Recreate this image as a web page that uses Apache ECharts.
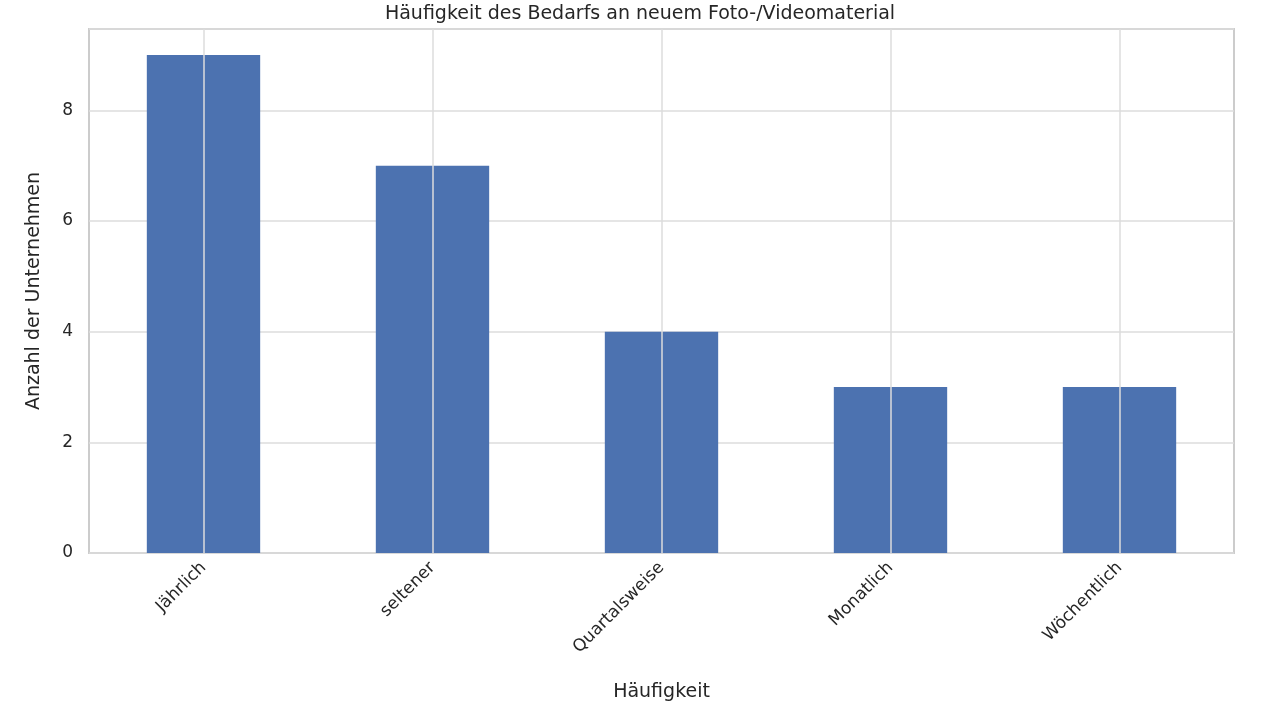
<!DOCTYPE html>
<html><head><meta charset="utf-8">
<script src="https://cdn.jsdelivr.net/npm/echarts@6/dist/echarts.min.js"></script>
<style>html,body{margin:0;padding:0;background:#fff}#c{width:1280px;height:716px}</style>
</head><body><div id="c"></div>
<script>
const categories = ['Jährlich','seltener','Quartalsweise','Monatlich','Wöchentlich'];
const values = [9,7,4,3,3];
const yTicks = [0,2,4,6,8];
const chart = echarts.init(document.getElementById('c'));
const font = 'DejaVu Sans';
chart.setOption({
  animation:false,
  textStyle:{fontFamily:font},
  title:{text:'Häufigkeit des Bedarfs an neuem Foto-/Videomaterial',left:'center',top:0,
    textStyle:{fontFamily:font,fontSize:19,fontWeight:'normal',color:'#262626'}},
  grid:{left:89,right:46,top:29,bottom:163,show:true,borderColor:'#cccccc',borderWidth:2},
  xAxis:{type:'category',data:categories,name:'Häufigkeit',nameLocation:'middle',nameGap:130,
    nameTextStyle:{fontSize:19,color:'#262626'},
    axisLine:{show:false},axisTick:{show:false},
    axisLabel:{rotate:45,fontSize:17,color:'#262626',margin:12},splitLine:{show:false}},
  yAxis:{type:'value',min:0,max:9.47,interval:2,name:'Anzahl der Unternehmen',nameLocation:'middle',nameGap:45,
    nameTextStyle:{fontSize:19,color:'#262626'},
    axisLabel:{fontSize:17,color:'#262626',margin:16,formatter:v=>yTicks.includes(v)?String(v):''},
    axisLine:{show:false},axisTick:{show:false},
    splitLine:{lineStyle:{color:'#dddddd',width:1.5}}},
  series:[
    {type:'line',data:[],z:0,markLine:{silent:true,symbol:'none',label:{show:false},
      lineStyle:{color:'#dddddd',width:1.5,type:'solid'},
      data:categories.map(c=>({xAxis:c}))}},
    {type:'bar',data:values,barWidth:'49.5%',itemStyle:{color:'#4c72b0'},z:2}
  ]
});
</script></body></html>
